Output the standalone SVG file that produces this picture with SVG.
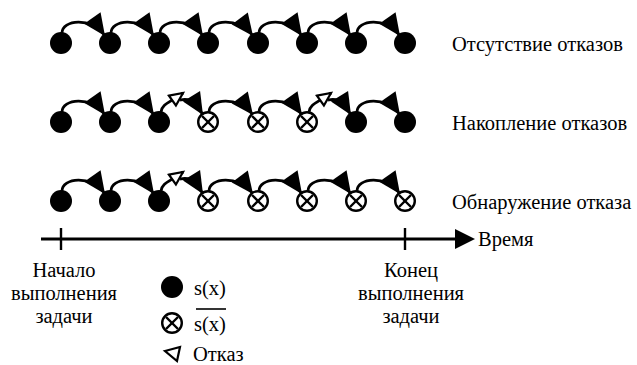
<svg xmlns="http://www.w3.org/2000/svg" width="637" height="365" viewBox="0 0 637 365">
  <style>
    .lbl { font-family: "Liberation Serif", "Times New Roman", "DejaVu Serif", serif; font-size: 20.5px; fill: #000; }
    .mid { text-anchor: middle; }
    .ok { fill: #000; }
    .bad { fill: #fff; stroke: #000; stroke-width: 2.4; }
    .cross { stroke: #000; stroke-width: 2.4; }
    .arc { fill: none; stroke: #000; stroke-width: 2.8; }
    .arc-next { marker-end: url(#head); }
    .arc-fail { marker-end: url(#fail); }
  </style>
  <defs>
    <marker id="head" markerUnits="userSpaceOnUse" viewBox="0 0 30 30" markerWidth="30" markerHeight="30" refX="26" refY="15" orient="auto" overflow="visible">
      <path d="M4,5 L26,15 L4,25 Z" fill="#000"/>
    </marker>
    <marker id="fail" markerUnits="userSpaceOnUse" viewBox="0 0 20 20" markerWidth="20" markerHeight="20" refX="16" refY="10" orient="auto" overflow="visible">
      <path d="M3,4 L16,10 L3,16 Z" fill="#fff" stroke="#000" stroke-width="2.2"/>
    </marker>
    <g id="s-ok"><circle r="11" class="ok"/></g>
    <g id="s-bad">
      <circle r="9.8" class="bad"/>
      <line x1="-6" y1="-6" x2="6" y2="6" class="cross"/>
      <line x1="-6" y1="6" x2="6" y2="-6" class="cross"/>
    </g>
  </defs>

  <!-- transitions between states -->
  <g id="connectors">
    <!-- row 1 (y=43) -->
    <path class="arc arc-next" d="M62,33 C62,20 91,16 105,36"/>
    <path class="arc arc-next" d="M111,33 C111,20 140,16 154,36"/>
    <path class="arc arc-next" d="M160,33 C160,20 189,16 203,36"/>
    <path class="arc arc-next" d="M209,33 C209,20 238,16 253,36"/>
    <path class="arc arc-next" d="M259,33 C259,20 288,16 302,36"/>
    <path class="arc arc-next" d="M308,33 C308,20 337,16 351,36"/>
    <path class="arc arc-next" d="M357,33 C357,20 386,16 400,36"/>

    <!-- row 2 (y=122) -->
    <path class="arc arc-next" d="M62,112 C62,99 91,95 105,115"/>
    <path class="arc arc-next" d="M111,112 C111,99 140,95 154,115"/>
    <path class="arc arc-fail" d="M161,112 C162,104 169,103 183,93"/>
    <path class="arc arc-next" d="M180,100 C186,99 192,97 203,115"/>
    <path class="arc arc-next" d="M209,112 C209,99 238,95 253,115"/>
    <path class="arc arc-next" d="M259,112 C259,99 288,95 302,115"/>
    <path class="arc arc-fail" d="M309,112 C310,104 317,103 331,93"/>
    <path class="arc arc-next" d="M328,100 C334,99 340,97 351,115"/>
    <path class="arc arc-next" d="M357,112 C357,99 386,95 400,115"/>

    <!-- row 3 (y=201) -->
    <path class="arc arc-next" d="M62,191 C62,178 91,174 105,194"/>
    <path class="arc arc-next" d="M111,191 C111,178 140,174 154,194"/>
    <path class="arc arc-fail" d="M161,191 C162,183 169,182 183,172"/>
    <path class="arc arc-next" d="M180,179 C186,178 192,176 203,194"/>
    <path class="arc arc-next" d="M209,191 C209,178 238,174 253,194"/>
    <path class="arc arc-next" d="M259,191 C259,178 288,174 302,194"/>
    <path class="arc arc-next" d="M308,191 C308,178 337,174 351,194"/>
    <path class="arc arc-next" d="M357,191 C357,178 386,174 400,194"/>
  </g>

  <!-- row 1: no faults -->
  <g id="row1">
    <use href="#s-ok" x="61" y="43"/>
    <use href="#s-ok" x="110" y="43"/>
    <use href="#s-ok" x="159" y="43"/>
    <use href="#s-ok" x="208" y="43"/>
    <use href="#s-ok" x="258" y="43"/>
    <use href="#s-ok" x="307" y="43"/>
    <use href="#s-ok" x="356" y="43"/>
    <use href="#s-ok" x="405" y="43"/>
    <text class="lbl" x="452" y="51">Отсутствие отказов</text>
  </g>

  <!-- row 2: fault accumulation -->
  <g id="row2">
    <use href="#s-ok" x="61" y="122"/>
    <use href="#s-ok" x="110" y="122"/>
    <use href="#s-ok" x="159" y="122"/>
    <use href="#s-bad" x="208" y="122"/>
    <use href="#s-bad" x="258" y="122"/>
    <use href="#s-bad" x="307" y="122"/>
    <use href="#s-ok" x="356" y="122"/>
    <use href="#s-ok" x="405" y="122"/>
    <text class="lbl" x="452" y="130">Накопление отказов</text>
  </g>

  <!-- row 3: fault detection -->
  <g id="row3">
    <use href="#s-ok" x="61" y="201"/>
    <use href="#s-ok" x="110" y="201"/>
    <use href="#s-ok" x="159" y="201"/>
    <use href="#s-bad" x="208" y="201"/>
    <use href="#s-bad" x="258" y="201"/>
    <use href="#s-bad" x="307" y="201"/>
    <use href="#s-bad" x="356" y="201"/>
    <use href="#s-bad" x="405" y="201"/>
    <text class="lbl" x="452" y="209">Обнаружение отказа</text>
  </g>

  <!-- time axis -->
  <g id="axis">
    <line x1="41" y1="239" x2="458" y2="239" stroke="#000" stroke-width="2.8"/>
    <path d="M455,229 L475,239 L455,249 Z" fill="#000"/>
    <line x1="61" y1="228" x2="61" y2="250" stroke="#000" stroke-width="2.4"/>
    <line x1="405" y1="228" x2="405" y2="250" stroke="#000" stroke-width="2.4"/>
    <text class="lbl" x="478" y="246">Время</text>
  </g>

  <g id="start-label">
    <text class="lbl mid" x="64" y="277">Начало</text>
    <text class="lbl mid" x="64" y="300">выполнения</text>
    <text class="lbl mid" x="64" y="323">задачи</text>
  </g>

  <g id="end-label">
    <text class="lbl mid" x="411" y="277">Конец</text>
    <text class="lbl mid" x="411" y="300">выполнения</text>
    <text class="lbl mid" x="411" y="323">задачи</text>
  </g>

  <!-- legend -->
  <g id="legend">
    <use href="#s-ok" x="172" y="287"/>
    <text class="lbl" x="194" y="295">s(x)</text>
    <use href="#s-bad" x="172" y="323"/>
    <text class="lbl" x="194" y="331">s(x)</text>
    <line x1="196" y1="309" x2="226" y2="309" stroke="#000" stroke-width="1.6"/>
    <path d="M165,351 L180,347 L177,361 Z" fill="#fff" stroke="#000" stroke-width="2.2"/>
    <text class="lbl" x="193" y="361">Отказ</text>
  </g>
</svg>
